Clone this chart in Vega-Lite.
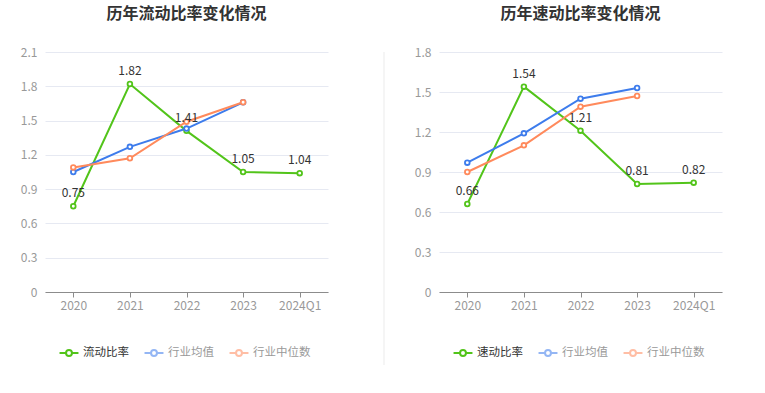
{
  "$schema": "https://vega.github.io/schema/vega-lite/v6.json",
  "padding": {"left": 15, "top": 6, "right": 5, "bottom": 5},
  "background": "white",
  "config": {
    "font": "Noto Sans CJK SC",
    "view": {"stroke": null},
    "concat": {"spacing": 24},
    "axisY": {"domain": false, "ticks": false, "gridColor": "#e6e9f2", "labelColor": "#999999", "labelFontSize": 12, "labelPadding": 8, "minExtent": 30, "maxExtent": 30, "title": null, "format": ".2~f"},
    "axisX": {"domainColor": "#8c8c8c", "tickColor": "#8c8c8c", "tickSize": 5, "labelColor": "#999999", "labelFontSize": 12, "labelPadding": 3, "labelAngle": 0, "grid": false, "title": null},
    "legend": {"orient": "bottom", "direction": "horizontal", "title": null, "labelFontSize": 11.5, "labelColor": "#555555", "symbolSize": 140, "symbolStrokeWidth": 2, "columnPadding": 11, "labelOffset": 7, "offset": 35, "layout": {"bottom": {"anchor": "middle"}}, "symbolType": "M-1.6,0L-0.5,0M0.5,0L1.6,0M0.5,0A0.5,0.5,0,1,1,-0.5,0A0.5,0.5,0,1,1,0.5,0"}
  },
  "datasets": {
    "liudong": [
      {"year": "2020", "series": "流动比率", "value": 0.75},
      {"year": "2021", "series": "流动比率", "value": 1.82},
      {"year": "2022", "series": "流动比率", "value": 1.41},
      {"year": "2023", "series": "流动比率", "value": 1.05},
      {"year": "2024Q1", "series": "流动比率", "value": 1.04},
      {"year": "2020", "series": "行业均值", "value": 1.05},
      {"year": "2021", "series": "行业均值", "value": 1.27},
      {"year": "2022", "series": "行业均值", "value": 1.43},
      {"year": "2023", "series": "行业均值", "value": 1.66},
      {"year": "2020", "series": "行业中位数", "value": 1.09},
      {"year": "2021", "series": "行业中位数", "value": 1.17},
      {"year": "2022", "series": "行业中位数", "value": 1.49},
      {"year": "2023", "series": "行业中位数", "value": 1.66}
    ],
    "sudong": [
      {"year": "2020", "series": "速动比率", "value": 0.66},
      {"year": "2021", "series": "速动比率", "value": 1.54},
      {"year": "2022", "series": "速动比率", "value": 1.21},
      {"year": "2023", "series": "速动比率", "value": 0.81},
      {"year": "2024Q1", "series": "速动比率", "value": 0.82},
      {"year": "2020", "series": "行业均值", "value": 0.97},
      {"year": "2021", "series": "行业均值", "value": 1.19},
      {"year": "2022", "series": "行业均值", "value": 1.45},
      {"year": "2023", "series": "行业均值", "value": 1.53},
      {"year": "2020", "series": "行业中位数", "value": 0.90},
      {"year": "2021", "series": "行业中位数", "value": 1.10},
      {"year": "2022", "series": "行业中位数", "value": 1.39},
      {"year": "2023", "series": "行业中位数", "value": 1.47}
    ],
    "divider": [{"pos": 1}]
  },
  "hconcat": [
    {
      "title": {"text": "历年流动比率变化情况", "fontSize": 16, "fontWeight": "bold", "color": "#333333", "frame": "group", "anchor": "middle", "offset": 24},
      "width": 283,
      "height": 240,
      "data": {"name": "liudong"},
      "encoding": {
        "x": {"field": "year", "type": "ordinal"},
        "y": {"field": "value", "type": "quantitative", "scale": {"domain": [0, 2.1]}, "axis": {"values": [0, 0.3, 0.6, 0.9, 1.2, 1.5, 1.8, 2.1]}}
      },
      "layer": [
        {
          "mark": {"type": "line", "strokeWidth": 2, "point": {"filled": false, "fill": "white", "size": 22, "strokeWidth": 1.8}},
          "encoding": {
            "color": {"field": "series", "type": "nominal", "scale": {"domain": ["流动比率", "行业均值", "行业中位数"], "range": ["#52c41a", "#3d7cec", "#ff8a5c"]},
              "legend": {"encode": {"symbols": {"update": {"fill": {"value": "white"}, "opacity": {"signal": "datum.value === '流动比率' ? 1 : 0.55"}}}, "labels": {"update": {"fill": {"signal": "datum.value === '流动比率' ? '#333333' : '#999999'"}}}}}}
          }
        },
        {
          "transform": [{"filter": "datum.series === '流动比率'"}],
          "mark": {"type": "text", "dy": -13, "fontSize": 12, "color": "#333333"},
          "encoding": {"text": {"field": "value", "type": "quantitative", "format": ".2f"}}
        }
      ]
    },
    {
      "width": 32,
      "height": 313,
      "data": {"name": "divider"},
      "mark": {"type": "rule", "color": "#ebebeb", "strokeWidth": 1},
      "encoding": {"x": {"field": "pos", "type": "quantitative", "scale": {"domain": [0, 1]}, "axis": null}}
    },
    {
      "title": {"text": "历年速动比率变化情况", "fontSize": 16, "fontWeight": "bold", "color": "#333333", "frame": "group", "anchor": "middle", "offset": 24},
      "width": 283,
      "height": 240,
      "data": {"name": "sudong"},
      "encoding": {
        "x": {"field": "year", "type": "ordinal"},
        "y": {"field": "value", "type": "quantitative", "scale": {"domain": [0, 1.8]}, "axis": {"values": [0, 0.3, 0.6, 0.9, 1.2, 1.5, 1.8]}}
      },
      "layer": [
        {
          "mark": {"type": "line", "strokeWidth": 2, "point": {"filled": false, "fill": "white", "size": 22, "strokeWidth": 1.8}},
          "encoding": {
            "color": {"field": "series", "type": "nominal", "scale": {"domain": ["速动比率", "行业均值", "行业中位数"], "range": ["#52c41a", "#3d7cec", "#ff8a5c"]},
              "legend": {"encode": {"symbols": {"update": {"fill": {"value": "white"}, "opacity": {"signal": "datum.value === '速动比率' ? 1 : 0.55"}}}, "labels": {"update": {"fill": {"signal": "datum.value === '速动比率' ? '#333333' : '#999999'"}}}}}}
          }
        },
        {
          "transform": [{"filter": "datum.series === '速动比率'"}],
          "mark": {"type": "text", "dy": -13, "fontSize": 12, "color": "#333333"},
          "encoding": {"text": {"field": "value", "type": "quantitative", "format": ".2f"}}
        }
      ]
    }
  ],
  "resolve": {"scale": {"color": "independent", "y": "independent", "x": "independent"}, "legend": {"color": "independent"}}
}
